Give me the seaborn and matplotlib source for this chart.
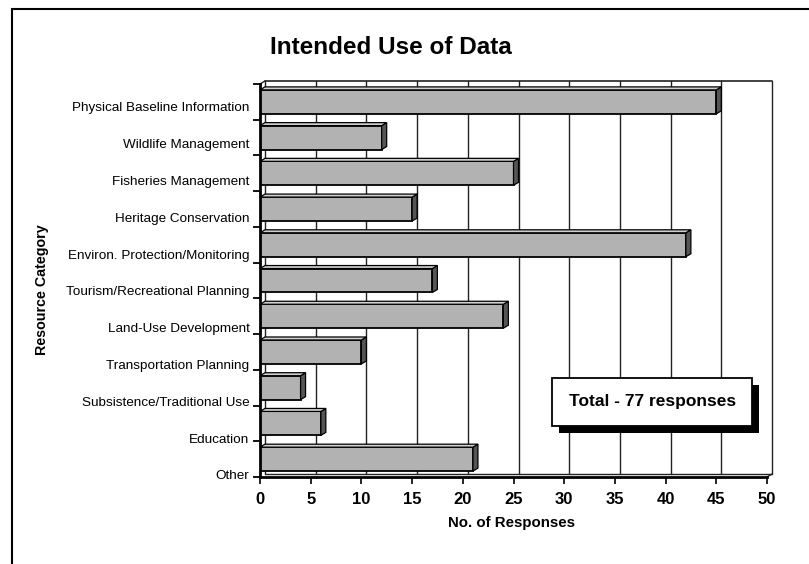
"""
Intended Use of Data - horizontal 3D-style bar chart recreated with seaborn.
"""

import matplotlib
matplotlib.use("Agg")
import matplotlib.pyplot as plt
import matplotlib.patheffects as pe
from matplotlib.patches import Polygon, Rectangle
import seaborn as sns

categories = [
    "Physical Baseline Information",
    "Wildlife Management",
    "Fisheries Management",
    "Heritage Conservation",
    "Environ. Protection/Monitoring",
    "Tourism/Recreational Planning",
    "Land-Use Development",
    "Transportation Planning",
    "Subsistence/Traditional Use",
    "Education",
    "Other",
]
responses = [45, 12, 25, 15, 42, 17, 24, 10, 4, 6, 21]
x_ticks = [0, 5, 10, 15, 20, 25, 30, 35, 40, 45, 50]
total_note = "Total - 77 responses"

sns.set_style("white")
plt.rcParams["font.family"] = ["Liberation Sans", "DejaVu Sans"]
plt.rcParams["text.color"] = "black"
plt.rcParams["xtick.color"] = "black"
plt.rcParams["ytick.color"] = "black"
plt.rcParams["axes.labelcolor"] = "black"

W, H = 809, 564
fig = plt.figure(figsize=(W / 100, H / 100), dpi=100)
ax = fig.add_axes([260 / W, 1 - 477 / H, (767 - 260) / W, (477 - 84) / H])

bar_h = 0.67
sns.barplot(x=responses, y=categories, color="#b2b2b2", saturation=1,
            edgecolor="black", linewidth=1.3, width=bar_h, ax=ax, zorder=3)

ax.set_xlim(0, 50)
ax.set_ylim(len(categories) - 0.5, -0.5)

# depth of the fake 3D effect, in data units (about 5 px right, 3 px up)
dx = 5 / ((767 - 260) / 50)
dy = 3 / ((477 - 84) / len(categories))

# back wall with vertical gridlines
for t in x_ticks:
    ax.plot([t + dx, t + dx], [-0.5 - dy, len(categories) - 0.5 - dy],
            color="#222222", lw=1.0, zorder=1, clip_on=False)
ax.plot([dx, 50 + dx], [-0.5 - dy, -0.5 - dy], color="#222222", lw=1.2,
        zorder=1, clip_on=False)
ax.plot([dx, 50 + dx], [len(categories) - 0.5 - dy] * 2, color="#222222",
        lw=1.0, zorder=1, clip_on=False)
ax.plot([0, dx], [-0.5, -0.5 - dy], color="#222222", lw=1.0, zorder=1,
        clip_on=False)
ax.plot([50, 50 + dx], [len(categories) - 0.5, len(categories) - 0.5 - dy],
        color="#222222", lw=1.0, zorder=1, clip_on=False)

# side and top faces of each bar
for i, v in enumerate(responses):
    top, bot = i - bar_h / 2, i + bar_h / 2
    side = Polygon([(v, top), (v + dx, top - dy), (v + dx, bot - dy), (v, bot)],
                   closed=True, facecolor="#555555", edgecolor="black",
                   lw=0.9, zorder=4)
    ax.add_patch(side)
    lid = Polygon([(0, top), (v, top), (v + dx, top - dy), (dx, top - dy)],
                  closed=True, facecolor="#cfcfcf", edgecolor="black",
                  lw=0.9, zorder=4)
    ax.add_patch(lid)

# axes: only left and bottom, thick
for s in ["top", "right"]:
    ax.spines[s].set_visible(False)
for s in ["left", "bottom"]:
    ax.spines[s].set_linewidth(2.0)
    ax.spines[s].set_color("black")
    ax.spines[s].set_zorder(5)

ax.set_xticks(x_ticks)
ax.set_xticklabels([str(t) for t in x_ticks], fontsize=12, fontweight="bold")
ax.tick_params(axis="x", bottom=True, direction="out", length=5, width=1.2,
               pad=6)

# category boundaries get the tick marks, labels sit just below them
ax.set_yticks([i - 0.5 for i in range(len(categories) + 1)], minor=True)
ax.set_yticks([0.14 + 1.03 * i for i in range(len(categories))])
ax.set_yticklabels(categories, fontsize=9.7)
ax.tick_params(axis="y", which="major", left=True, length=0, pad=7.5)
ax.tick_params(axis="y", which="minor", left=True, direction="out",
               length=5, width=1.3)
ax.set_xlabel("")
ax.set_ylabel("")

fig.text(391 / W, 1 - 48 / H, "Intended Use of Data", ha="center",
         va="center", fontsize=17.5, fontweight="bold")
fig.text(511 / W, 1 - 523 / H, "No. of Responses", ha="center",
         va="center", fontsize=10.8, fontweight="bold")
fig.text(42 / W, 1 - 290 / H, "Resource Category", ha="center",
         va="center", rotation=90, fontsize=10.3, fontweight="bold")

note = ax.text(38.7, 8.4, total_note, ha="center", va="center",
               fontsize=12.5, fontweight="bold", zorder=6,
               bbox=dict(boxstyle="square,pad=0.95", facecolor="white",
                         edgecolor="black", lw=1.3))
note.get_bbox_patch().set_path_effects(
    [pe.SimplePatchShadow(offset=(5, -5), shadow_rgbFace="black", alpha=1.0),
     pe.Normal()])

# outer chart frame (runs off the right and bottom edges)
fig.patches.append(Rectangle((12 / W, -0.1), 1.0, 1.1 - 9 / H, fill=False,
                             edgecolor="black", lw=1.5,
                             transform=fig.transFigure, figure=fig))

fig.savefig("out.png", dpi=100)
